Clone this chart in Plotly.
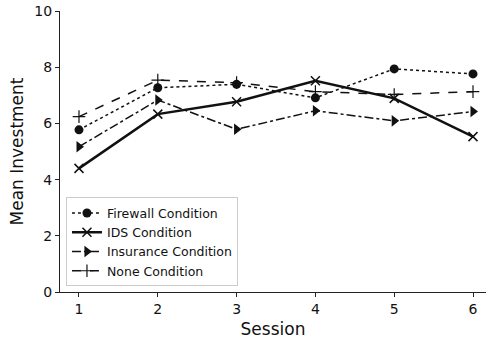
import plotly.graph_objects as go

sessions = [1, 2, 3, 4, 5, 6]
firewall = [5.77, 7.27, 7.39, 6.91, 7.94, 7.76]
ids = [4.40, 6.33, 6.77, 7.52, 6.89, 5.53]
insurance = [5.17, 6.83, 5.79, 6.45, 6.09, 6.42]
none_cond = [6.24, 7.54, 7.45, 7.13, 7.03, 7.13]
y_ticks = [0, 2, 4, 6, 8, 10]

fig = go.Figure()
fig.add_trace(go.Scatter(x=sessions, y=firewall, name="Firewall Condition", mode="lines+markers",
                         line=dict(color="#111", width=1.5, dash="dot"),
                         marker=dict(symbol="circle", size=9, color="#111")))
fig.add_trace(go.Scatter(x=sessions, y=ids, name="IDS Condition", mode="lines+markers",
                         line=dict(color="#111", width=2.5, dash="solid"),
                         marker=dict(symbol="x-thin", size=9, color="#111",
                                     line=dict(color="#111", width=1.5))))
fig.add_trace(go.Scatter(x=sessions, y=insurance, name="Insurance Condition", mode="lines+markers",
                         line=dict(color="#111", width=1.5, dash="dashdot"),
                         marker=dict(symbol="triangle-right", size=10, color="#111")))
fig.add_trace(go.Scatter(x=sessions, y=none_cond, name="None Condition", mode="lines+markers",
                         line=dict(color="#111", width=1.5, dash="dash"),
                         marker=dict(symbol="cross-thin", size=9, color="#111",
                                     line=dict(color="#111", width=1.2))))

fig.update_layout(
    width=486, height=340,
    margin=dict(l=60, r=0, t=11, b=48, autoexpand=False),
    paper_bgcolor="white", plot_bgcolor="white",
    font=dict(family="DejaVu Sans", size=14, color="#111"),
    showlegend=True,
    legend=dict(x=0.014, y=0.02, xanchor="left", yanchor="bottom",
                bgcolor="rgba(255,255,255,0.85)", bordercolor="#ccc", borderwidth=1,
                font=dict(size=12.5), tracegroupgap=0, itemwidth=30),
    xaxis=dict(range=[0.759, 6.165], tickvals=sessions, showgrid=False, zeroline=False,
               showline=True, linecolor="#222", linewidth=1.2, ticks="outside", ticklen=4,
               tickcolor="#222", automargin=False, title=dict(text="Session", standoff=7)),
    yaxis=dict(range=[0, 10], tickvals=y_ticks, showgrid=False, zeroline=False,
               showline=True, linecolor="#222", linewidth=1.2, ticks="outside", ticklen=4,
               tickcolor="#222", automargin=False, title=dict(text="Mean Investment", standoff=6)),
)
fig.write_html("out.html", config={"displayModeBar": False},
               post_script="document.body.style.margin='0';document.body.style.overflow='hidden';")
